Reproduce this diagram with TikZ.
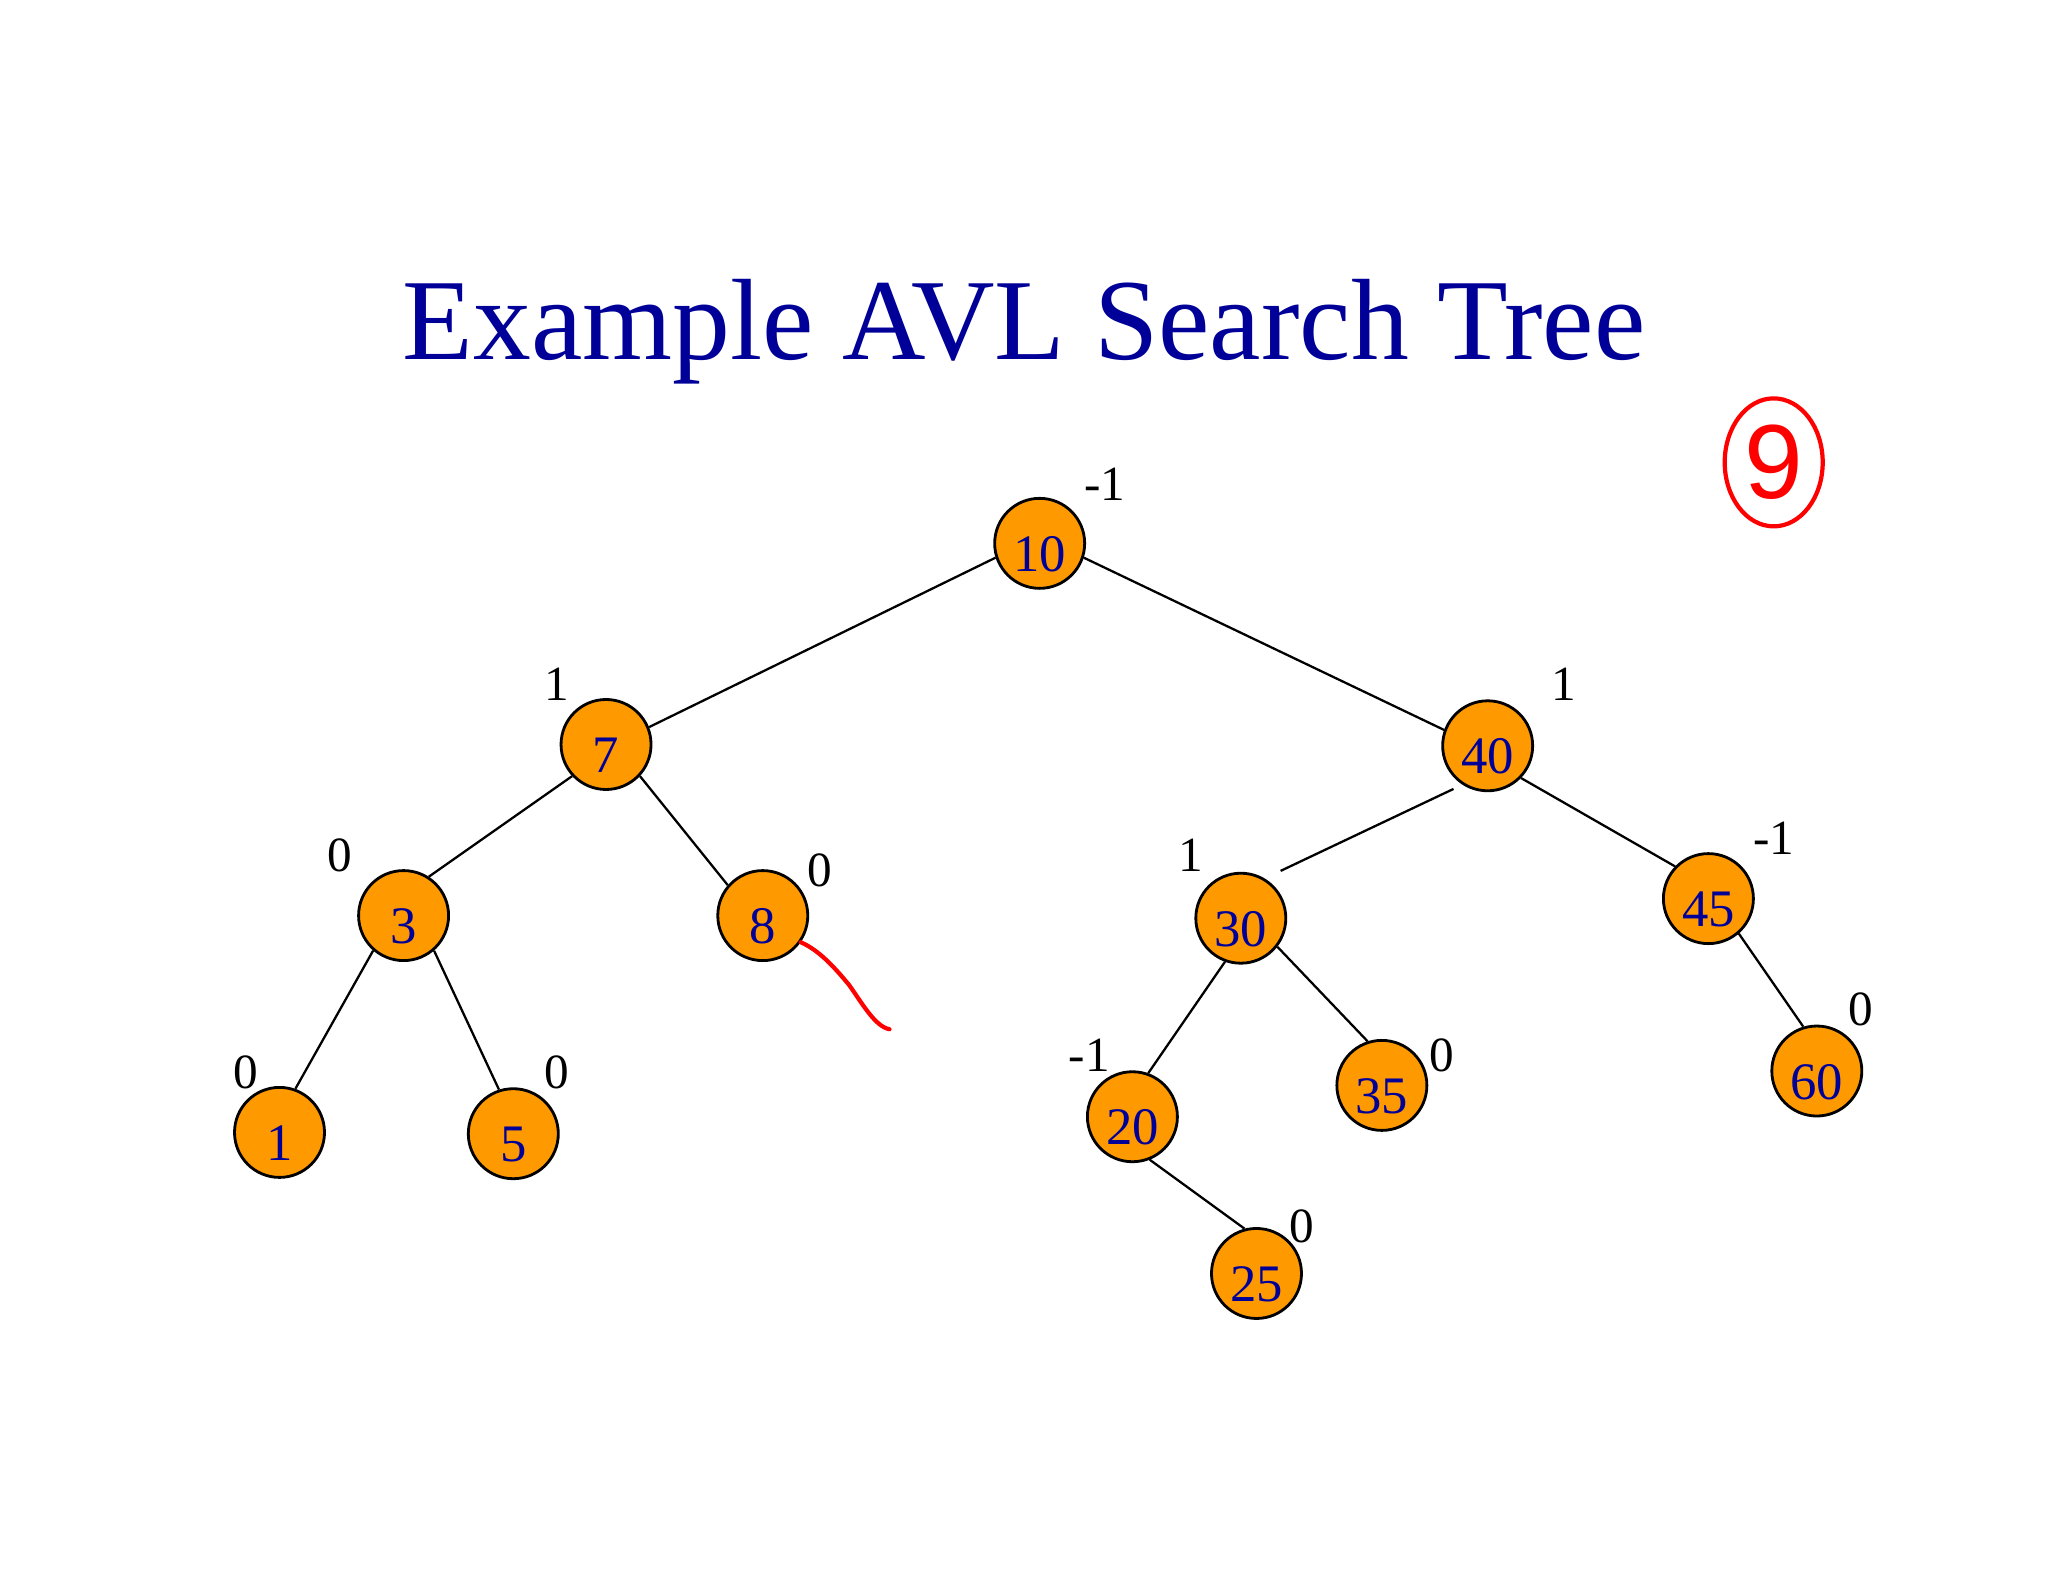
\documentclass[tikz,border=0pt]{standalone}
\usepackage{fontspec}
\setmainfont{Liberation Serif}
\newfontfamily\inkfont{Liberation Sans}
\usepackage{xcolor}
\usepackage{tikz}
\usetikzlibrary{shapes.geometric}
\definecolor{navy}{RGB}{0,0,153}
\definecolor{avlorange}{RGB}{255,153,0}

\begin{document}
\begin{tikzpicture}[x=0.013061cm,y=-0.013061cm,
  n/.style={circle,draw,line width=0.8pt,fill=avlorange,minimum size=0.9cm,inner sep=0pt,
    text=navy,font=\fontsize{15}{16}\selectfont,text height=16pt,text depth=0pt},
  bal/.style={font=\fontsize{14}{16}\selectfont,inner sep=0pt},
  ln/.style={line width=0.65pt},
  ink/.style={red,line width=1.2pt,line cap=round}]
  \useasboundingbox (0,0) rectangle (1568,1211);
  \node[font=\fontsize{32.9}{38}\selectfont,text=navy,anchor=base] (title) at (784,275){Example AVL Search Tree};
  % tree
  \node[n](n10) at (796,416){10};
  \node[n](n7) at (464,570){7};
  \node[n](n40) at (1139,571){40};
  \node[n](n3) at (309,701){3};
  \node[n](n8) at (584,701){8};
  \node[n](n30) at (950,703){30};
  \node[n](n45) at (1308,688){45};
  \node[n](n1) at (214,867){1};
  \node[n](n5) at (393,868){5};
  \node[n](n20) at (867,855){20};
  \node[n](n35) at (1058,831){35};
  \node[n](n60) at (1391,820){60};
  \node[n](n25) at (962,975){25};
  \draw[ln](n10.198)--(n7.22);
  \draw[ln](n10.342)--(n40.160);
  \draw[ln](n7.223)--(n3.57);
  \draw[ln](n7.317)--(n8.139);
  \draw[ln,shorten <=2.8pt,shorten >=5pt](n40.237)--(n30.59);
  \draw[ln](n40.316)--(n45.136);
  \draw[ln](n3.229)--(n1.70);
  \draw[ln](n3.311)--(n5.108);
  \draw[ln](n30.250)--(n20.70);
  \draw[ln](n30.322)--(n35.108);
  \draw[ln](n45.311)--(n60.107);
  \draw[ln](n20.292)--(n25.105);
  % balance factors
  \node[bal](b10) at (846,371){-1};
  \node[bal](b7) at (426,524){1};
  \node[bal](b40) at (1197,524){1};
  \node[bal](b3) at (260,655){0};
  \node[bal](b8) at (628,666){0};
  \node[bal](b30) at (912,655){1};
  \node[bal](b45) at (1358,642){-1};
  \node[bal](b1) at (188,821){0};
  \node[bal](b5) at (426,821){0};
  \node[bal](b20) at (834,808){-1};
  \node[bal](b35) at (1104,808){0};
  \node[bal](b60) at (1425,773){0};
  \node[bal](b25) at (997,939){0};
  % red ink
  \coordinate (tail) at (681,788);
  \draw[ink](n8.325) .. controls (628,728) and (640,742) .. (650,754) .. controls (660,768) and (670,786) .. (tail);
  \node[ellipse,draw=red,line width=1.2pt,minimum width=0.98cm,minimum height=1.28cm,inner sep=0pt,
    text=red,font=\inkfont\fontsize{30}{32}\selectfont] (mark) at (1358,354){9};
\end{tikzpicture}
\end{document}
